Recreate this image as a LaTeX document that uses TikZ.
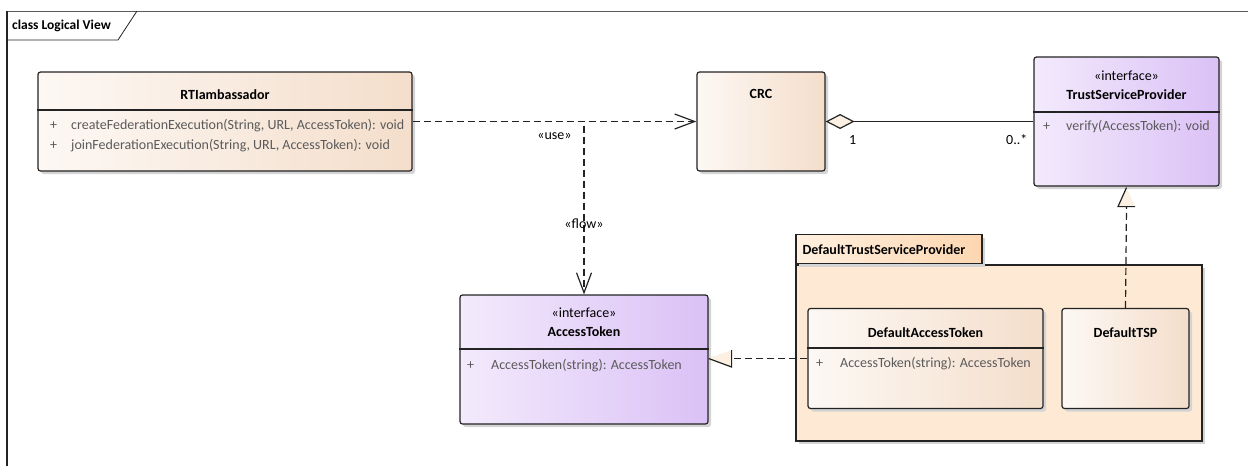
\documentclass[tikz,border=0pt]{standalone}
\usepackage{fontspec}
\setmainfont{Carlito}
\usepackage{xcolor}
\usepackage{tikz}
\usetikzlibrary{arrows.meta,shadows,positioning}
\definecolor{linegray}{RGB}{35, 35, 35}
\definecolor{framegray}{RGB}{90, 90, 90}
\definecolor{shadowgray}{RGB}{212, 212, 212}
\definecolor{membergray}{RGB}{90, 90, 90}
\definecolor{classleft}{RGB}{253, 248, 244}
\definecolor{classright}{RGB}{244, 222, 203}
\definecolor{ifaceleft}{RGB}{243, 234, 252}
\definecolor{ifaceright}{RGB}{219, 193, 246}
\definecolor{pkgfill}{RGB}{254, 233, 212}
\definecolor{tableft}{RGB}{255, 240, 224}
\definecolor{tabright}{RGB}{253, 214, 176}
\definecolor{tipfill}{RGB}{251, 240, 226}

\begin{document}
\begin{tikzpicture}[x=1pt, y=-1pt,
    box/.style={draw=linegray, line width=1.2pt, rounded corners=2.5pt, inner sep=0pt,
      drop shadow={shadow xshift=3pt, shadow yshift=-3pt, fill=shadowgray, opacity=1}},
    classbox/.style={box, left color=classleft, right color=classright},
    ifacebox/.style={box, left color=ifaceleft, right color=ifaceright},
    pkgbox/.style={box, rounded corners=0pt, fill=pkgfill},
    pkgtabbox/.style={box, rounded corners=0pt, left color=tableft, right color=tabright},
    cname/.style={font=\bfseries\fontsize{14}{16}\selectfont, inner sep=0pt},
    stereo/.style={font=\fontsize{14}{16}\selectfont, inner sep=0pt},
    member/.style={font=\fontsize{14}{16}\selectfont, text=membergray, inner sep=0pt, anchor=west},
    lbl/.style={font=\fontsize{14}{16}\selectfont, inner sep=0pt},
    divider/.style={draw=linegray, line width=1.2pt},
    dep/.style={draw=linegray, line width=1.2pt, dash pattern=on 7pt off 4pt,
      arrows={-Straight Barb[length=20pt, width=15pt]}},
    aggr/.style={draw=linegray, line width=1.2pt,
      arrows={Diamond[length=29pt, width=15pt, fill=tipfill]-}},
    realize/.style={draw=linegray, line width=1.2pt, dash pattern=on 7pt off 4pt},
    tiphead/.style={draw=linegray, line width=1.2pt, line join=miter}]
  \useasboundingbox (0,0) rectangle (1248,466);

  % frame
  \draw[framegray, line width=0.8pt] (7,11) -- (1248,11);
  \draw[linegray, line width=1.2pt] (7,466) -- (7,11);
  \draw[linegray, line width=0.8pt] (7,40) -- (118,40) -- (137,11);
  \node[cname, font=\bfseries\fontsize{13.5}{15}\selectfont, anchor=west] (frametitle) at (12,26) {class Logical View};

  % RTIambassador
  \node[classbox, minimum width=374pt, minimum height=99pt] (rti) at (225,121.5) {};
  \draw[divider] (rti.west |- 0,110) -- (rti.east |- 0,110);
  \node[cname] (rtiname) at (225,95) {RTIambassador};
  \node[member] (rtiplus1) at (50,126) {+};
  \node[member] (rtiop1) at (71,126) {createFederationExecution(String, URL, AccessToken): void};
  \node[member] (rtiplus2) at (50,146) {+};
  \node[member] (rtiop2) at (71,146) {joinFederationExecution(String, URL, AccessToken): void};

  % CRC
  \node[classbox, minimum width=128pt, minimum height=99pt] (crc) at (761,121.5) {};
  \node[cname] (crcname) at (761,94) {CRC};

  % TrustServiceProvider
  \node[ifacebox, minimum width=185pt, minimum height=129pt] (tsp) at (1126.5,121.5) {};
  \draw[divider] (tsp.west |- 0,112) -- (tsp.east |- 0,112);
  \node[stereo] (tspster) at (1126.5,76) {«interface»};
  \node[cname] (tspname) at (1126.5,95) {TrustServiceProvider};
  \node[member] (tspplus) at (1043,127) {+};
  \node[member] (tspop) at (1066,127) {verify(AccessToken): void};

  % AccessToken
  \node[ifacebox, minimum width=248pt, minimum height=129pt] (at) at (584,359.5) {};
  \draw[divider] (at.west |- 0,349) -- (at.east |- 0,349);
  \node[stereo] (atster) at (584,313) {«interface»};
  \node[cname] (atname) at (584,332) {AccessToken};
  \node[member] (atplus) at (467,366) {+};
  \node[member] (atop) at (491,366) {AccessToken(string): AccessToken};

  % DefaultTrustServiceProvider package
  \node[pkgbox, minimum width=406pt, minimum height=176pt] (pkg) at (999,353) {};
  \node[pkgtabbox, minimum width=186pt, minimum height=29pt, anchor=south west] (pkgtab) at (pkg.north west) {};
  \node[cname, anchor=west, right=7pt of pkgtab.west] (pkgname) {DefaultTrustServiceProvider};

  \node[classbox, minimum width=235pt, minimum height=100pt] (dat) at (925.5,358.5) {};
  \draw[divider] (dat.west |- 0,348) -- (dat.east |- 0,348);
  \node[cname] (datname) at (925.5,333) {DefaultAccessToken};
  \node[member] (datplus) at (816,364) {+};
  \node[member] (datop) at (840,364) {AccessToken(string): AccessToken};

  \node[classbox, minimum width=127pt, minimum height=100pt] (dtsp) at (1125.5,358.5) {};
  \node[cname] (dtspname) at (1125.5,333) {DefaultTSP};

  % connectors
  \draw[dep] (rti.east) -- node[lbl, pos=0.5, yshift=-15pt] (uselbl) {«use»} (crc.west);
  \coordinate (flowstart) at (at.north |- rti.east);
  \draw[dep] ([yshift=-4pt]flowstart) -- node[lbl, pos=0.58] (flowlbl) {«flow»} (at.north);
  \draw[aggr] (crc.east) -- node[lbl, pos=0.13, yshift=-18pt] (crcmult) {1}
    node[lbl, pos=0.92, yshift=-18pt] (tspmult) {0..*} (tsp.west);

  % realisations
  \coordinate (tsptip) at ([yshift=-1pt]tsp.south);
  \draw[realize] (dtsp.north) -- ([yshift=-19pt]tsptip);
  \fill[tipfill] (tsptip) -- ++(-8.5,19) -- ++(17,0) -- cycle;
  \draw[tiphead] (tsptip) -- ++(-8.5,19) -- ++(17,0);
  \coordinate (attip) at (dat.west -| at.east);
  \draw[realize] (dat.west) -- ([xshift=23pt]attip);
  \fill[tipfill] (attip) -- ++(23,-8.5) -- ++(0,17) -- cycle;
  \draw[tiphead] (attip) -- ++(23,8.5) -- ++(0,-17);
\end{tikzpicture}
\end{document}
